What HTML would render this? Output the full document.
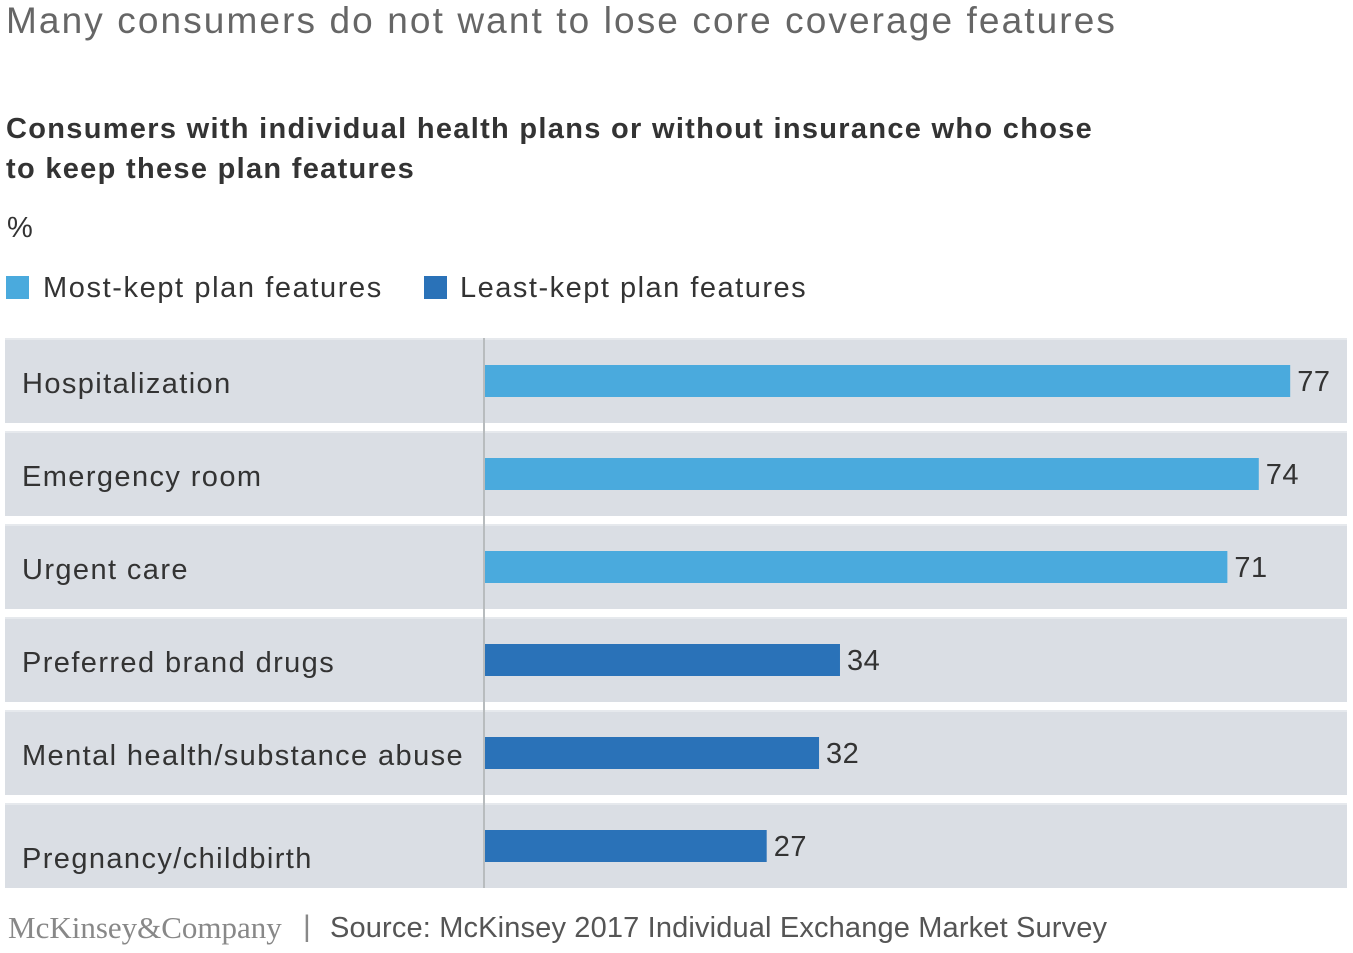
<!DOCTYPE html>
<html><head><meta charset="utf-8"><style>
body{margin:0;width:1353px;height:953px;background:#fff;font-family:"Liberation Sans",Arial,sans-serif;position:relative;overflow:hidden}
.t{position:absolute;white-space:nowrap}
</style></head><body>
<div class="t" style="left:6px;top:0px;font-size:37px;letter-spacing:2.1px;color:#666">Many consumers do not want to lose core coverage features</div>
<div class="t" style="left:6px;top:109px;font-size:29px;letter-spacing:1.3px;font-weight:bold;color:#333;line-height:40px">Consumers with individual health plans or without insurance who chose<br>to keep these plan features</div>
<div class="t" style="left:7px;top:212px;font-size:29px;color:#333">%</div>
<div style="position:absolute;left:6px;top:276px;width:23px;height:23px;background:#4aaadd"></div>
<div class="t" style="left:43px;top:272px;font-size:29px;letter-spacing:1.6px;color:#333">Most-kept plan features</div>
<div style="position:absolute;left:424px;top:276px;width:23px;height:23px;background:#2a72b8"></div>
<div class="t" style="left:460px;top:272px;font-size:29px;letter-spacing:1.5px;color:#333">Least-kept plan features</div>
<svg id="chart" width="1353" height="953" style="position:absolute;left:0;top:0"></svg>
<div class="t" style="left:8px;top:910px;font-size:31px;color:#888;font-family:'Liberation Serif',serif">McKinsey&amp;Company</div>
<div class="t" style="left:303px;top:910px;font-size:30px;color:#888">|</div>
<div class="t" style="left:330px;top:912px;font-size:29px;letter-spacing:0.15px;color:#555">Source: McKinsey 2017 Individual Exchange Market Survey</div>
<script>
const categories=["Hospitalization","Emergency room","Urgent care","Preferred brand drugs","Mental health/substance abuse","Pregnancy/childbirth"];
const values=[77,74,71,34,32,27];
const groups=["most","most","most","least","least","least"];
const svg=document.getElementById('chart');
const NS="http://www.w3.org/2000/svg";
const x0=484,pxPer=10.47,top0=338,pitch=93,bandH=85;
function xs(v){return x0+v*pxPer;}
function mk(t,a){const e=document.createElementNS(NS,t);for(const k in a)e.setAttribute(k,a[k]);svg.appendChild(e);return e;}
categories.forEach((c,i)=>{
 const y=top0+i*pitch;
 const b=mk('rect',{x:5,y:y,width:1342,height:bandH,fill:'#dadee4'});
 
 
 const l=mk('rect',{x:5,y:y,width:1342,height:2,fill:'#e6e9ed'});
 
 
 const tx=mk('text',{x:22,y:i==5?y+65:y+55,'font-size':29,'letter-spacing':1.4,fill:'#333','font-family':'Liberation Sans, Arial, sans-serif'});
 tx.textContent=c;
 
 
 const v=values[i];
 const r=mk('rect',{x:x0,y:y+27,width:xs(v)-x0,height:32,fill:groups[i]=='most'?'#4aaadd':'#2a72b8'});
 
 
 const vt=mk('text',{x:xs(v)+7,y:y+53,'font-size':29,'letter-spacing':0.5,fill:'#333','font-family':'Liberation Sans, Arial, sans-serif'});
 vt.textContent=v;
 
 
});
const ax=mk('rect',{x:x0-1,y:top0,width:2,height:pitch*5+bandH,fill:'#b8bcbe'});


</script>
</body></html>
